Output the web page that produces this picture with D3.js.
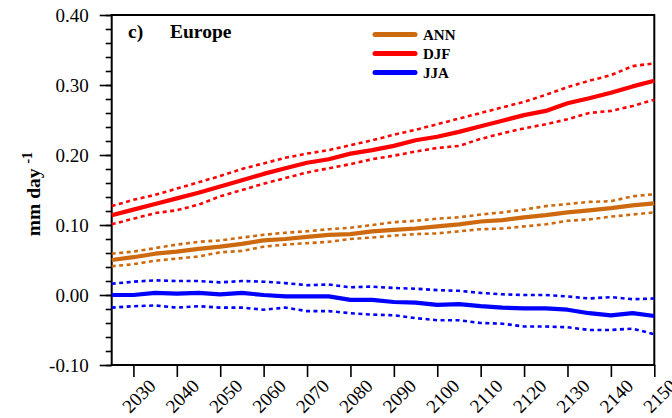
<!DOCTYPE html>
<html>
<head>
<meta charset="utf-8">
<script src="https://cdn.jsdelivr.net/npm/d3@7"></script>
<style>
  html, body { margin: 0; padding: 0; background: #fff; }
  svg { display: block; font-family: "Liberation Serif", "Times New Roman", serif; }
</style>
</head>
<body>
<svg id="chart" width="672" height="418"></svg>
<script>
// Years sampled every five years, 2025–2150
const years = [2025, 2030, 2035, 2040, 2045, 2050, 2055, 2060, 2065, 2070, 2075, 2080, 2085,
               2090, 2095, 2100, 2105, 2110, 2115, 2120, 2125, 2130, 2135, 2140, 2145, 2150];

// Ensemble mean and spread bounds (mm day^-1)
const annMean  = [0.050, 0.054, 0.059, 0.062, 0.066, 0.069, 0.073, 0.078, 0.080, 0.083, 0.086, 0.087, 0.091,
                  0.093, 0.095, 0.098, 0.101, 0.105, 0.107, 0.111, 0.114, 0.118, 0.121, 0.124, 0.128, 0.131];
const annUpper = [0.059, 0.062, 0.067, 0.072, 0.076, 0.078, 0.082, 0.086, 0.089, 0.091, 0.094, 0.096, 0.100,
                  0.104, 0.106, 0.109, 0.111, 0.115, 0.118, 0.122, 0.127, 0.130, 0.133, 0.134, 0.141, 0.144];
const annLower = [0.041, 0.044, 0.049, 0.052, 0.055, 0.061, 0.063, 0.069, 0.072, 0.074, 0.076, 0.080, 0.082,
                  0.085, 0.087, 0.088, 0.091, 0.094, 0.095, 0.098, 0.101, 0.106, 0.108, 0.112, 0.115, 0.118];

const djfMean  = [0.114, 0.122, 0.130, 0.138, 0.146, 0.155, 0.164, 0.173, 0.181, 0.189, 0.194, 0.202, 0.207,
                  0.213, 0.221, 0.226, 0.233, 0.241, 0.249, 0.257, 0.263, 0.274, 0.281, 0.289, 0.298, 0.306];
const djfUpper = [0.127, 0.136, 0.143, 0.152, 0.161, 0.170, 0.180, 0.188, 0.196, 0.202, 0.207, 0.214, 0.221,
                  0.229, 0.236, 0.244, 0.252, 0.260, 0.268, 0.276, 0.286, 0.297, 0.306, 0.314, 0.327, 0.331];
const djfLower = [0.101, 0.109, 0.117, 0.121, 0.129, 0.141, 0.150, 0.159, 0.167, 0.175, 0.181, 0.187, 0.194,
                  0.199, 0.205, 0.210, 0.213, 0.223, 0.231, 0.238, 0.244, 0.251, 0.260, 0.263, 0.270, 0.279];

const jjaMean  = [0.000, 0.000, 0.003, 0.002, 0.003, 0.001, 0.003, 0.000, -0.002, -0.002, -0.002, -0.007, -0.007,
                  -0.010, -0.011, -0.014, -0.013, -0.016, -0.018, -0.019, -0.019, -0.021, -0.026, -0.029, -0.026, -0.030];
const jjaUpper = [0.016, 0.019, 0.021, 0.020, 0.020, 0.018, 0.020, 0.019, 0.017, 0.014, 0.015, 0.011, 0.012,
                  0.010, 0.009, 0.007, 0.006, 0.003, 0.001, 0.000, 0.000, -0.002, -0.005, -0.003, -0.006, -0.005];
const jjaLower = [-0.018, -0.016, -0.015, -0.018, -0.016, -0.018, -0.018, -0.021, -0.018, -0.023, -0.023, -0.026, -0.028,
                  -0.029, -0.033, -0.036, -0.036, -0.040, -0.041, -0.045, -0.045, -0.046, -0.050, -0.050, -0.048, -0.056];

const seriesNames = ["ANN", "DJF", "JJA"];
const seriesColors = ["#cd6a0f", "#ff0000", "#0000ff"];

const xTicks = [2030, 2040, 2050, 2060, 2070, 2080, 2090, 2100, 2110, 2120, 2130, 2140, 2150];
const yTicks = [-0.10, 0.00, 0.10, 0.20, 0.30, 0.40];
const yMinorTicks = d3.range(-0.10, 0.4001, 0.02);

const panelLabel = "c)";
const regionName = "Europe";

// ---- layout ----
const plotLeft = 111.7, plotRight = 654.3, plotTop = 15, plotBottom = 365;
const svg = d3.select("#chart");

const x = d3.scaleLinear().domain([2025, 2150]).range([plotLeft, plotRight]);
const y = d3.scaleLinear().domain([-0.10, 0.40]).range([plotBottom, plotTop]);

// ---- axes ----
const yAxis = d3.axisLeft(y).tickValues(yTicks).tickSize(12).tickPadding(11)
  .tickFormat(d => d.toFixed(2));
const yMinor = d3.axisLeft(y).tickValues(yMinorTicks).tickSize(6).tickFormat("");
const xAxis = d3.axisBottom(x).tickValues(xTicks).tickSize(12).tickFormat(d3.format("d"));

const gyMinor = svg.append("g").attr("transform", `translate(${plotLeft},0)`).call(yMinor);
const gy = svg.append("g").attr("transform", `translate(${plotLeft},0)`).call(yAxis);
const gx = svg.append("g").attr("transform", `translate(0,${plotBottom})`).call(xAxis);

[gy, gyMinor, gx].forEach(g => {
  g.select(".domain").remove();
  g.selectAll(".tick line").attr("stroke", "#000").attr("stroke-width", 1.6);
});
gy.selectAll(".tick text")
  .attr("font-family", "Liberation Serif, serif")
  .attr("font-size", 19).attr("fill", "#000");

gx.selectAll(".tick text")
  .attr("font-family", "Liberation Serif, serif")
  .attr("font-size", 19).attr("fill", "#000")
  .attr("text-anchor", "middle")
  .attr("dominant-baseline", "central")
  .attr("y", null).attr("dy", null)
  .attr("transform", "translate(5,31) rotate(-45)");

// frame
svg.append("rect")
  .attr("x", plotLeft).attr("y", plotTop)
  .attr("width", plotRight - plotLeft).attr("height", plotBottom - plotTop)
  .attr("fill", "none").attr("stroke", "#000").attr("stroke-width", 2);

// ---- series ----
const line = d3.line().x((d, i) => x(years[i])).y(d => y(d));
const groups = [
  { mean: annMean, upper: annUpper, lower: annLower, color: seriesColors[0] },
  { mean: djfMean, upper: djfUpper, lower: djfLower, color: seriesColors[1] },
  { mean: jjaMean, upper: jjaUpper, lower: jjaLower, color: seriesColors[2] }
];
const plot = svg.append("g");
groups.forEach(gr => {
  [gr.upper, gr.lower].forEach(arr => {
    plot.append("path").datum(arr)
      .attr("d", line).attr("fill", "none")
      .attr("stroke", gr.color).attr("stroke-width", 2.6)
      .attr("stroke-dasharray", "4,3.5");
  });
  plot.append("path").datum(gr.mean)
    .attr("d", line).attr("fill", "none")
    .attr("stroke", gr.color).attr("stroke-width", 4.2)
    .attr("stroke-linejoin", "round");
});

// ---- titles ----
svg.append("text").attr("x", 128).attr("y", 38)
  .attr("font-size", 19.5).attr("font-weight", "bold").text(panelLabel);
svg.append("text").attr("x", 170).attr("y", 38)
  .attr("font-size", 19.5).attr("font-weight", "bold").text(regionName);

const yl = svg.append("text")
  .attr("transform", "translate(40,194) rotate(-90)")
  .attr("text-anchor", "middle")
  .attr("font-size", 19.5).attr("font-weight", "bold");
yl.append("tspan").text("mm day ");
yl.append("tspan").attr("dy", -8).attr("font-size", 14).text("-1");

// ---- legend ----
const legend = svg.append("g");
seriesNames.forEach((name, i) => {
  const ly = 34.5 + i * 19;
  legend.append("line")
    .attr("x1", 375).attr("x2", 415).attr("y1", ly).attr("y2", ly)
    .attr("stroke", seriesColors[i]).attr("stroke-width", 5)
    .attr("stroke-linecap", "round");
  legend.append("text").attr("x", 423).attr("y", ly + 5)
    .attr("font-size", 15).attr("font-weight", "bold").text(name);
});
</script>
</body>
</html>
